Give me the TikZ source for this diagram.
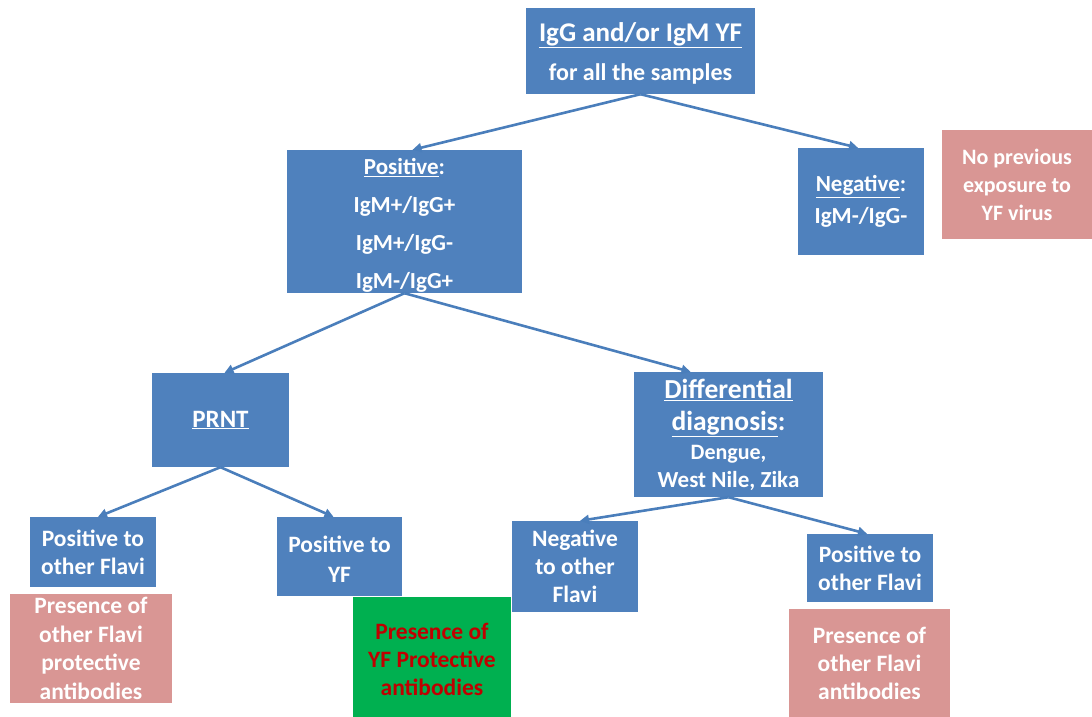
\documentclass[tikz,border=0pt]{standalone}
\usepackage{fontspec}
\setmainfont{Carlito}
\usetikzlibrary{arrows.meta}
\definecolor{boxblue}{RGB}{79,129,189}
\definecolor{arrowblue}{RGB}{74,126,187}
\definecolor{boxpink}{RGB}{217,150,148}
\definecolor{boxgreen}{RGB}{0,176,80}
\definecolor{darkredtext}{RGB}{192,0,0}
\newcommand\fsz[2]{\fontsize{#1}{#2}\selectfont}
\tikzset{
  bluebox/.style={fill=boxblue, text=white, inner sep=0pt, align=center, font=\bfseries\fsz{23.5}{28}},
  pinkbox/.style={fill=boxpink, text=white, inner sep=0pt, align=center, font=\bfseries\fsz{23.5}{28.5}},
  greenbox/.style={fill=boxgreen, text=darkredtext, inner sep=0pt, align=center, font=\bfseries\fsz{23.5}{28}},
  conn/.style={draw=arrowblue, line width=2.6pt, -{Triangle[length=9pt,width=9pt]}},
}
\begin{document}
\begin{tikzpicture}[x=1pt,y=-1pt]
\useasboundingbox (0,0) rectangle (1092,717);
\node[bluebox, minimum width=229pt, minimum height=86pt] (top) at (640.5,51)
  {\rule{0pt}{23pt}{\fsz{27}{32}\underline{IgG and/or IgM YF}}\\[11pt]{\fsz{24}{32}for all the samples}};
\node[bluebox, minimum width=235pt, minimum height=143pt, font=\bfseries\fsz{23}{38}] (pos) at (404.5,221.5)
  {\rule{0pt}{24pt}\underline{Positive}:\\IgM+/IgG+\\IgM+/IgG-\\IgM-/IgG+};
\node[bluebox, minimum width=126pt, minimum height=107pt, font=\bfseries\fsz{23}{32}] (neg) at (861,201.5)
  {\underline{Negative}:\\IgM-/IgG-};
\node[pinkbox, minimum width=150pt, minimum height=109pt, font=\bfseries\fsz{22}{28}] (noprev) at (1017,184.5)
  {No previous\\exposure to\\YF virus};
\node[bluebox, minimum width=137pt, minimum height=94pt, font=\bfseries\fsz{25}{30}] (prnt) at (220.5,420)
  {\underline{PRNT}};
\node[bluebox, minimum width=189pt, minimum height=125pt, font=\bfseries\fsz{23}{28}] (diff) at (728.5,434.5)
  {{\fsz{27.5}{33}\underline{Differential}}\\[4pt]{\fsz{27.5}{31}\underline{diagnosis}:}\\[1pt]{\fsz{22}{28}Dengue,}\\West Nile, Zika};
\node[bluebox, minimum width=126pt, minimum height=70pt] (lpos) at (93,552)
  {Positive to\\other Flavi};
\node[pinkbox, minimum width=162pt, minimum height=109pt] (lpink) at (91,648.5)
  {Presence of\\other Flavi\\protective\\antibodies};
\node[bluebox, minimum width=125pt, minimum height=79pt, font=\bfseries\fsz{23.5}{30}] (posyf) at (339.5,556.5)
  {\rule{0pt}{22pt}Positive to\\YF};
\node[greenbox, minimum width=158pt, minimum height=120pt] (green) at (432,657)
  {\rule{0pt}{22pt}Presence of\\YF Protective\\antibodies};
\node[bluebox, minimum width=126pt, minimum height=91pt] (negoth) at (575,566.5)
  {Negative\\to other\\Flavi};
\node[bluebox, minimum width=126pt, minimum height=68pt] (rpos) at (870,568)
  {Positive to\\other Flavi};
\node[pinkbox, minimum width=161pt, minimum height=108pt, font=\bfseries\fsz{23.5}{28}] (rpink) at (869.5,663)
  {Presence of\\other Flavi\\antibodies};
\draw[conn] (top.south) -- ([xshift=8pt]pos.north);
\draw[conn] (top.south) -- ([xshift=-3pt]neg.north);
\draw[conn] (pos.south) -- ([xshift=4pt]prnt.north);
\draw[conn] (pos.south) -- ([xshift=-38pt]diff.north);
\draw[conn] (prnt.south) -- ([xshift=5pt]lpos.north);
\draw[conn] (prnt.south) -- ([xshift=-6pt]posyf.north);
\draw[conn] (diff.south) -- ([xshift=5pt]negoth.north);
\draw[conn] (diff.south) -- ([xshift=-3pt]rpos.north);
\end{tikzpicture}
\end{document}
